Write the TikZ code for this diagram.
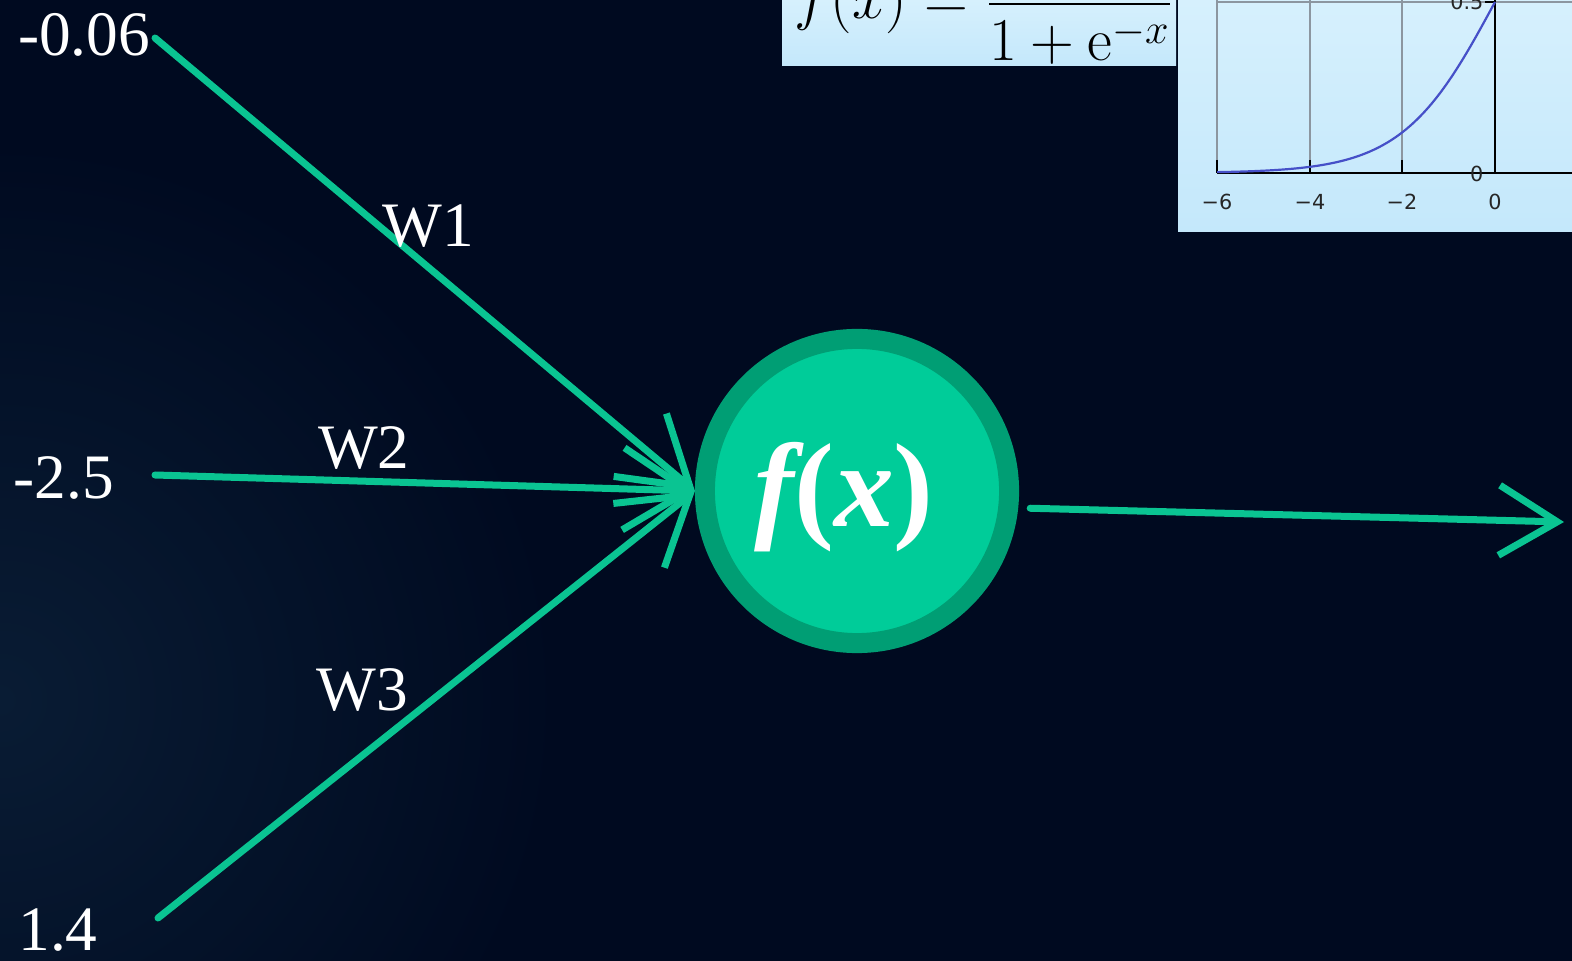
\documentclass[tikz,border=0pt]{standalone}
\usepackage{amsmath}
\usepackage[no-math]{fontspec}
\setmainfont{Liberation Serif}
\newfontfamily\plotfont{DejaVu Sans}
\usepackage{tikz}
\usetikzlibrary{arrows.meta}
\definecolor{bgNavy}{RGB}{0,10,32}
\definecolor{bgGlow}{RGB}{9,28,52}
\definecolor{synGreen}{RGB}{10,196,146}
\definecolor{cellGreen}{RGB}{0,204,153}
\definecolor{ringGreen}{RGB}{0,158,116}
\definecolor{panelBlue}{RGB}{196,232,251}
\definecolor{panelBlueTop}{RGB}{214,240,253}
\definecolor{gridGray}{RGB}{140,150,160}
\definecolor{curveBlue}{RGB}{70,80,200}

\begin{document}
\begin{tikzpicture}[x=0.01cm, y=-0.01cm,
  inlabel/.style={text=white, font=\fontsize{18}{20}\selectfont, inner sep=2pt},
  wlabel/.style={text=white, font=\fontsize{18}{20}\selectfont, inner sep=0pt},
  syn/.style={draw=synGreen, line width=0.07cm, line cap=round,
              -{Straight Barb[length=0.65cm, width=0.82cm]}},
  outsyn/.style={draw=synGreen, line width=0.07cm, line cap=round,
              -{Straight Barb[length=0.58cm, width=0.70cm]}},
  neuron/.style={circle, fill=cellGreen, draw=ringGreen, line width=0.2cm,
                 minimum size=3.04cm, inner sep=0pt},
  gridline/.style={draw=gridGray, line width=0.02cm},
  axisline/.style={draw=black, line width=0.025cm},
  ticklabel/.style={font=\plotfont\fontsize{5.9}{7}\selectfont, text=black!85, inner sep=0pt}
]
\useasboundingbox (0,0) rectangle (1572,961);
\fill[bgNavy] (0,0) rectangle (1572,961);
\begin{scope}
  \clip (0,0) rectangle (1572,961);
  \shade[inner color=bgGlow, outer color=bgNavy] (0,700) circle (560);
\end{scope}

% formula panel
\begin{scope}
  \clip (782,0) rectangle (1176,66);
  \shade[top color=panelBlueTop, bottom color=panelBlue] (782,0) rectangle (1176,66);
  \node[anchor=base west, inner sep=0pt, font=\fontsize{17}{20}\selectfont] (sigmoid)
    at (794,19) {$f(x) = \dfrac{1}{1+\mathrm{e}^{-x}}$};
\end{scope}

% sigmoid plot panel
\begin{scope}
  \clip (1178,0) rectangle (1572,232);
  \shade[top color=panelBlueTop, bottom color=panelBlue] (1178,0) rectangle (1572,232);
  \foreach \gx in {1217,1310,1402}
    \draw[gridline] (\gx,0) -- (\gx,173);
  \draw[gridline] (1217,2) -- (1572,2);
  \draw[axisline] (1217,173) -- (1572,173);
  \draw[axisline] (1495,0) -- (1495,173);
  \foreach \gx in {1217,1310,1402}
    \draw[axisline] (\gx,160) -- (\gx,173);
  \draw[axisline] (1485,173) -- (1495,173);
  \draw[axisline] (1485,2) -- (1495,2);
  \draw[curveBlue, line width=0.022cm] plot[domain=-6:0, samples=60, smooth]
    ({1495+46.3*\x}, {173-342/(1+exp(-\x))});
  \foreach \v/\gx in {6/1217,4/1310,2/1402}
    \node[ticklabel] (tick\v) at (\gx,202) {−\v};
  \node[ticklabel] (tick0) at (1495,202) {0};
  \node[ticklabel, anchor=east] (ytick0) at (1484,174) {0};
  \node[ticklabel, anchor=east] (ytick5) at (1484,2) {0.5};
\end{scope}

% neuron
\node[neuron] (cell) at (857,491) {};
\node[text=white, font=\fontsize{34}{36}\selectfont\bfseries, inner sep=0pt] (fx)
  at (844,497) {{\itshape f}({\itshape x})};

% inputs
\node[inlabel] (in1) at (84,35) {-0.06};
\node[inlabel] (in2) at (64,478) {-2.5};
\node[inlabel] (in3) at (58,930) {1.4};
\coordinate (s1) at (155,38);
\coordinate (s2) at (155,475);
\coordinate (s3) at (158,918);
\coordinate (outTip) at (1564,522);

\draw[syn] (s1) -- node[wlabel, pos=0.506, yshift=0.41cm] (w1) {W1} (cell.west);
\draw[syn] (s2) -- node[wlabel, pos=0.387, yshift=0.33cm] (w2) {W2} (cell.west);
\draw[syn] (s3) -- node[wlabel, pos=0.38, yshift=0.66cm] (w3) {W3} (cell.west);
\draw[outsyn, shorten <=0.12cm] (cell.-6) -- (outTip);
\end{tikzpicture}
\end{document}
